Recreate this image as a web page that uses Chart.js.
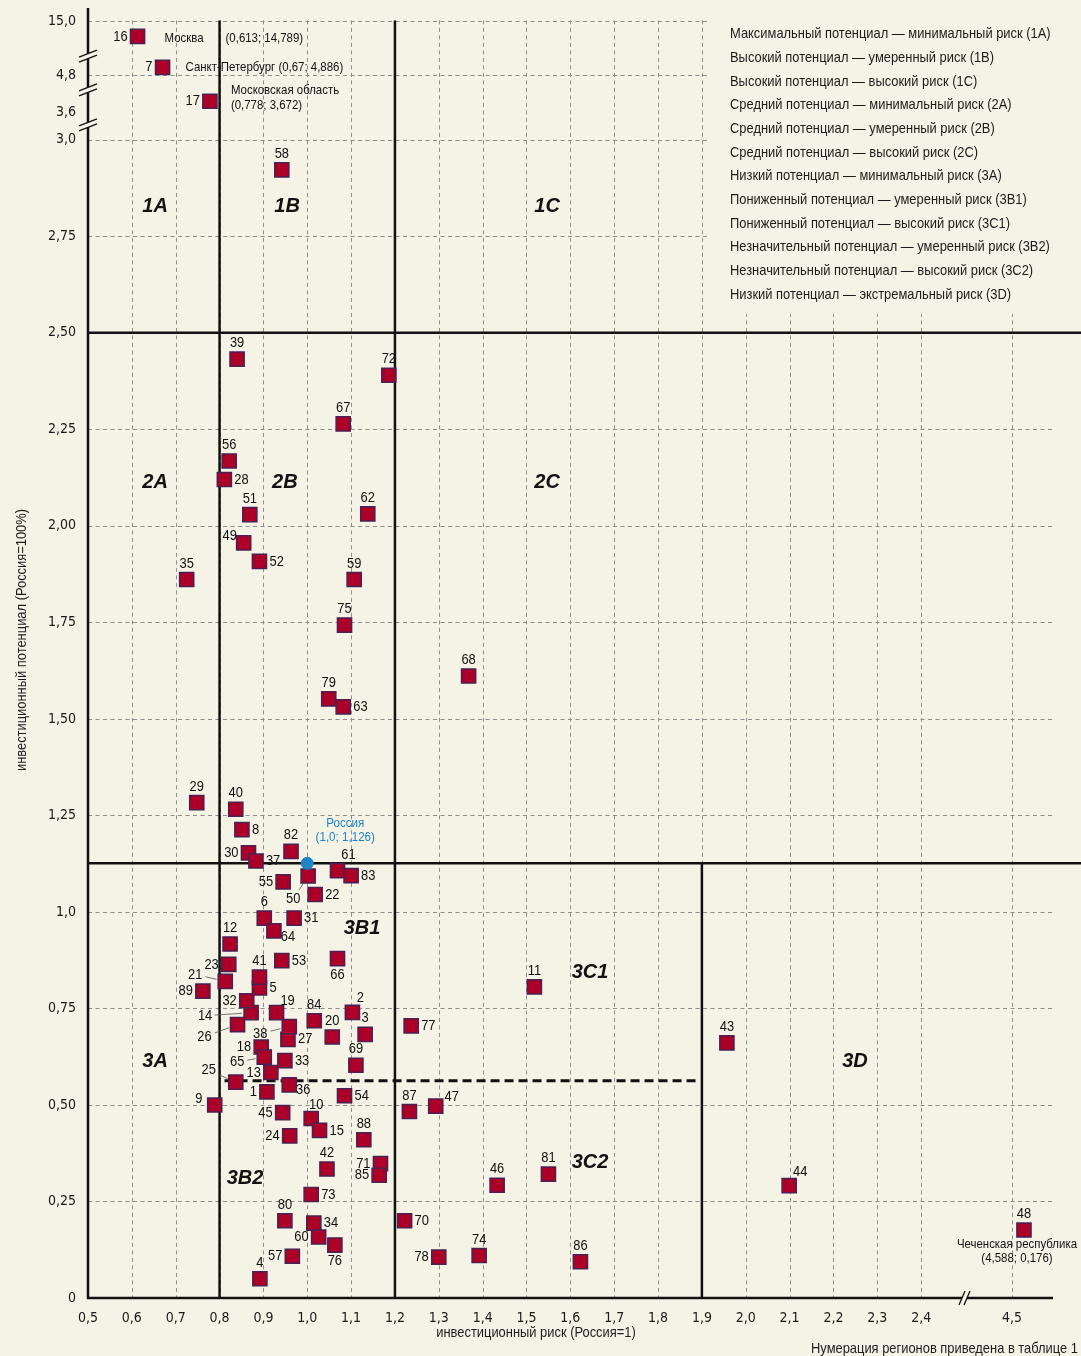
<!DOCTYPE html>
<html><head><meta charset="utf-8">
<script src="https://cdn.jsdelivr.net/npm/chart.js@4.4.1/dist/chart.umd.min.js"></script>
<style>html,body{margin:0;padding:0;background:#f4f3e6}canvas{display:block}</style>
</head><body>
<canvas id="c" width="1081" height="1356" style="width:1081px;height:1356px"></canvas>
<script>
// ---------------- DATA ----------------
const regionIds = [1,2,3,4,5,6,7,8,9,10,11,12,13,14,15,16,17,18,19,20,21,22,23,24,25,26,27,28,29,30,31,32,33,34,35,36,37,38,39,40,41,42,43,44,45,46,47,48,49,50,51,52,53,54,55,56,57,58,59,60,61,62,63,64,65,66,67,68,69,70,71,72,73,74,75,76,77,78,79,80,81,82,83,84,85,86,87,88,89];
const riskX = [0.908,1.103,1.132,0.892,0.891,0.902,0.67,0.851,0.789,1.009,1.518,0.824,0.917,0.872,1.028,0.613,0.778,0.895,0.930,1.057,0.813,1.018,0.821,0.960,0.837,0.841,0.956,0.811,0.748,0.866,0.970,0.862,0.949,1.015,0.725,0.959,0.883,0.959,0.840,0.837,0.891,1.045,1.957,2.099,0.944,1.433,1.293,4.588,0.855,1.002,0.869,0.891,0.942,1.085,0.945,0.822,0.966,0.942,1.107,1.026,1.069,1.138,1.082,0.924,0.902,1.069,1.082,1.368,1.111,1.222,1.167,1.186,1.009,1.392,1.085,1.063,1.237,1.300,1.049,0.949,1.550,0.963,1.100,1.016,1.164,1.623,1.233,1.129,0.762];
const potentialY = [0.534,0.740,0.683,0.050,0.803,0.984,4.886,1.213,0.500,0.465,0.806,0.917,0.584,0.739,0.434,14.789,3.672,0.650,0.739,0.676,0.820,1.045,0.864,0.420,0.559,0.708,0.670,2.120,1.283,1.153,0.984,0.770,0.615,0.194,1.861,0.552,1.132,0.703,2.432,1.266,0.831,0.334,0.661,0.291,0.480,0.292,0.497,0.176,1.956,1.093,2.029,1.908,0.874,0.524,1.078,2.168,0.108,2.922,1.861,0.158,1.107,2.031,1.531,0.951,0.624,0.879,2.264,1.611,0.603,0.200,0.348,2.390,0.268,0.110,1.743,0.137,0.705,0.106,1.552,0.200,0.321,1.157,1.094,0.718,0.318,0.094,0.483,0.410,0.795];
const russiaRisk = 1.0;
const russiaPotential = 1.126;
const namedRegions = {16:'Москва', 7:'Санкт-Петербург', 17:'Московская область', 48:'Чеченская республика'};

// zone boundaries
const riskBounds = [0.8, 1.2, 1.9];
const potentialBounds = [2.5, 1.126];
const lowSplit = 0.563;

// tick labels
const xTickValues = [0.5,0.6,0.7,0.8,0.9,1.0,1.1,1.2,1.3,1.4,1.5,1.6,1.7,1.8,1.9,2.0,2.1,2.2,2.3,2.4,4.5];
const xTickLabels = ['0,5','0,6','0,7','0,8','0,9','1,0','1,1','1,2','1,3','1,4','1,5','1,6','1,7','1,8','1,9','2,0','2,1','2,2','2,3','2,4','4,5'];
const yTickValues = [0,0.25,0.5,0.75,1.0,1.25,1.5,1.75,2.0,2.25,2.5,2.75,3.0,3.6,4.8,15.0];
const yTickLabels = ['0','0,25','0,50','0,75','1,0','1,25','1,50','1,75','2,00','2,25','2,50','2,75','3,0','3,6','4,8','15,0'];

// zone names
const zoneNames = ['1A','1B','1C','2A','2B','2C','3A','3B1','3C1','3B2','3C2','3D'];
const zoneRisk = [0.653,0.954,1.547,0.653,0.949,1.547,0.653,1.125,1.645,0.858,1.645,2.249];
const zonePotential = [2.826,2.826,2.826,2.112,2.112,2.112,0.613,0.957,0.843,0.310,0.352,0.613];

const legendItems = [
'Максимальный потенциал — минимальный риск (1А)',
'Высокий потенциал — умеренный риск (1В)',
'Высокий потенциал — высокий риск (1С)',
'Средний потенциал — минимальный риск (2А)',
'Средний потенциал — умеренный риск (2В)',
'Средний потенциал — высокий риск (2С)',
'Низкий потенциал — минимальный риск (3А)',
'Пониженный потенциал — умеренный риск (3В1)',
'Пониженный потенциал — высокий риск (3С1)',
'Незначительный потенциал — умеренный риск (3В2)',
'Незначительный потенциал — высокий риск (3С2)',
'Низкий потенциал — экстремальный риск (3D)'];

const xTitle = 'инвестиционный риск (Россия=1)';
const yTitle = 'инвестиционный потенциал (Россия=100%)';
const footnote = 'Нумерация регионов приведена в таблице 1';

// ---------------- LAYOUT / STYLE ----------------
const BG = '#f4f3e6';
const NARROW = '"DejaVu Sans Condensed","Liberation Sans Narrow",sans-serif';
const WIDE = '"Liberation Sans",Arial,sans-serif';
const SQUEEZE = 0.86;

// label placement: 'a' above, 'b' below, 'l' left, 'r' right, or [dx,dy,leader]
const labelPlacement = {1:'l',2:[8,-14],3:'a',4:'a',5:'r',6:'a',7:'l',8:'r',9:[-16,-6],10:[5,-14],11:'a',12:'a',13:'l',14:[-46,3,1],15:'r',16:'l',17:'l',18:'l',19:[11,-12],20:'a',21:[-30,-7,1],22:'r',23:'l',24:'l',25:[-27,-12,1],26:[-33,12,1],27:'r',28:'r',29:'a',30:'l',31:'r',32:'l',33:'r',34:'r',35:'a',36:[14,5],37:'r',38:[-29,7,1],39:'a',40:'a',41:'a',42:'a',43:'a',44:[11,-14],45:'l',46:'a',47:[16,-9],48:'a',49:[-14,-7],50:[-15,23,1],51:'a',52:'r',53:'r',54:'r',55:'l',56:'a',57:'l',58:'a',59:'a',60:'l',61:[11,-16],62:'a',63:'r',64:[14,6],65:[-27,5,1],66:'b',67:'a',68:'a',69:'a',70:'r',71:'l',72:'a',73:'r',74:'a',75:'a',76:'b',77:'r',78:'l',79:'a',80:'a',81:'a',82:'a',83:'r',84:'a',85:'l',86:'a',87:'a',88:'a',89:'l'};

// broken axes: value -> display coordinate
const xAnchors = [[2.45,2.45],[4.35,2.5607],[4.9,2.7312]];
const yAnchors = [[3.0,3.0],[3.45,3.0123],[3.75,3.1305],[4.65,3.131],[4.95,3.203],[14.6,3.233],[15.1,3.325]];
const xBreaks = [2.5];
const yBreaks = [3.04, 3.1307, 3.218];
function piecewise(anchors, v){
  if (v <= anchors[0][0]) return v;
  for (let i=1;i<anchors.length;i++){
    const [v0,d0]=anchors[i-1],[v1,d1]=anchors[i];
    if (v<=v1) return d0+(v-v0)*(d1-d0)/(v1-v0);
  }
  const n=anchors.length,[v0,d0]=anchors[n-2],[v1,d1]=anchors[n-1];
  return d0+(v-v0)*(d1-d0)/(v1-v0);
}
const toX = v => piecewise(xAnchors, v);
const toY = v => piecewise(yAnchors, v);
const fmt = v => (Number.isInteger(v) ? v.toFixed(1) : String(v)).replace('.', ',');

const regionPoints = regionIds.map((id,i)=>({x: toX(riskX[i]), y: toY(potentialY[i])}));

function line(ctx,x1,y1,x2,y2){ctx.beginPath();ctx.moveTo(x1,y1);ctx.lineTo(x2,y2);ctx.stroke();}
// narrow text: Liberation Sans squeezed horizontally (Arial Narrow look)
function ntext(ctx,t,x,y,align,size,color,rot){
  ctx.save();
  ctx.font=size+'px '+WIDE; ctx.fillStyle=color||'#111'; ctx.textAlign=align; ctx.textBaseline='middle';
  ctx.translate(x,y); if (rot) ctx.rotate(rot); ctx.scale(SQUEEZE,1);
  ctx.fillText(t,0,0);
  ctx.restore();
}
function nwidth(ctx,t,size){ctx.save();ctx.font=size+'px '+WIDE;const w=ctx.measureText(t).width*SQUEEZE;ctx.restore();return w;}

const schemaPlugin = {
  id:'schema',
  beforeDraw(chart){
    const c=chart.ctx; c.save(); c.fillStyle=BG; c.fillRect(0,0,chart.width,chart.height); c.restore();
  },
  beforeDatasetsDraw(chart){
    const {ctx, chartArea:a, scales:{x,y}} = chart;
    const X = v => x.getPixelForValue(toX(v)), Y = v => y.getPixelForValue(toY(v));
    ctx.save();
    // dashed grid
    ctx.strokeStyle='#8e8e8e'; ctx.lineWidth=1; ctx.setLineDash([4,3.5]);
    xTickValues.forEach(v=>{ if (v===0.5) return; const px=Math.round(X(v))+0.5; line(ctx,px,a.top,px,a.bottom); });
    yTickValues.forEach(v=>{ if (v===0 || v===3.6) return; const py=Math.round(Y(v))+0.5; line(ctx,a.left,py,a.right,py); });
    ctx.setLineDash([]);
    // legend area cover
    ctx.fillStyle=BG; ctx.fillRect(710,0,chart.width-710,314);
    // zone boundaries
    ctx.strokeStyle='#111'; ctx.lineWidth=2.5;
    line(ctx,X(riskBounds[0]),a.top,X(riskBounds[0]),a.bottom);
    line(ctx,X(riskBounds[1]),a.top,X(riskBounds[1]),a.bottom);
    line(ctx,X(riskBounds[2]),Y(potentialBounds[1]),X(riskBounds[2]),a.bottom);
    potentialBounds.forEach(p=>line(ctx,a.left,Y(p),chart.width,Y(p)));
    ctx.lineWidth=3; ctx.setLineDash([9,5]);
    line(ctx,X(riskBounds[0])+5,Y(lowSplit),X(riskBounds[2])-4,Y(lowSplit));
    ctx.setLineDash([]);
    // axes
    ctx.lineWidth=2.5;
    line(ctx,a.left,8,a.left,a.bottom+1);
    line(ctx,a.left-1,a.bottom,a.right,a.bottom);
    // breaks
    ctx.lineWidth=1.3;
    yBreaks.forEach(d=>{
      const py=y.getPixelForValue(d);
      ctx.fillStyle=BG;
      ctx.beginPath(); ctx.moveTo(a.left-9,py+1.5); ctx.lineTo(a.left+9,py-5.5); ctx.lineTo(a.left+9,py-0.5); ctx.lineTo(a.left-9,py+6.5); ctx.closePath(); ctx.fill();
      line(ctx,a.left-9,py+1.5,a.left+9,py-5.5);
      line(ctx,a.left-9,py+6.5,a.left+9,py-0.5);
    });
    xBreaks.forEach(d=>{
      const px=x.getPixelForValue(d);
      ctx.fillStyle=BG;
      ctx.beginPath(); ctx.moveTo(px-6,a.bottom+7); ctx.lineTo(px,a.bottom-7); ctx.lineTo(px+5,a.bottom-7); ctx.lineTo(px-1,a.bottom+7); ctx.closePath(); ctx.fill();
      line(ctx,px-6,a.bottom+7,px,a.bottom-7);
      line(ctx,px-1,a.bottom+7,px+5,a.bottom-7);
    });
    // zone names
    ctx.fillStyle='#111'; ctx.font='italic bold 20px '+WIDE; ctx.textAlign='center'; ctx.textBaseline='middle';
    zoneNames.forEach((n,i)=>ctx.fillText(n,X(zoneRisk[i]),Y(zonePotential[i])));
    // legend
    legendItems.forEach((t,i)=>ntext(ctx,t,730,34+i*23.7,'left',15,'#1c1c1c'));
    // axis titles
    ntext(ctx,xTitle,536,1333,'center',15,'#1c1c1c');
    ntext(ctx,yTitle,22,640,'center',15,'#1c1c1c',-Math.PI/2);
    ntext(ctx,footnote,1078,1349,'right',15,'#1c1c1c');
    ctx.restore();
  },
  afterDatasetsDraw(chart){
    const {ctx} = chart;
    const meta = chart.getDatasetMeta(0);
    const FS = 15;
    ctx.save();
    regionIds.forEach((id,i)=>{
      const el=meta.data[i]; const px=el.x, py=el.y; const t=String(id);
      const p=labelPlacement[id]||'a';
      if (p==='a') ntext(ctx,t,px,py-16,'center',FS);
      else if (p==='b') ntext(ctx,t,px,py+16,'center',FS);
      else if (p==='r') ntext(ctx,t,px+10,py,'left',FS);
      else if (p==='l') ntext(ctx,t,px-10,py,'right',FS);
      else {
        const [dx,dy,lead]=p; ntext(ctx,t,px+dx,py+dy,'center',FS);
        if (lead){
          const len=Math.hypot(dx,dy), ux=-dx/len, uy=-dy/len;
          const hw=nwidth(ctx,t,FS)/2;
          const off=hw*Math.abs(ux)+6*Math.abs(uy)+2;
          ctx.save(); ctx.strokeStyle='#555'; ctx.lineWidth=0.8;
          line(ctx,px+dx+ux*off,py+dy+uy*off,px-ux*9,py-uy*9); ctx.restore();
        }
      }
    });
    // named regions
    const AS = 13.3;
    regionIds.forEach((id,i)=>{
      if (!namedRegions[id]) return;
      const el=meta.data[i]; const px=el.x, py=el.y;
      const coord='('+fmt(riskX[i])+'; '+fmt(potentialY[i])+')';
      if (id===16){ntext(ctx,namedRegions[id],px+27,py+2,'left',AS);ntext(ctx,coord,px+88,py+2,'left',AS);}
      else if (id===7){ntext(ctx,namedRegions[id]+' '+coord,px+23,py,'left',AS);}
      else if (id===17){ntext(ctx,namedRegions[id],px+21,py-11,'left',AS);ntext(ctx,coord,px+21,py+4,'left',AS);}
      else if (id===48){ntext(ctx,namedRegions[id],px-7,py+14,'center',AS);ntext(ctx,coord,px-7,py+28,'center',AS);}
    });
    // Russia
    const rm = chart.getDatasetMeta(1).data[0];
    ntext(ctx,'Россия',rm.x+38,rm.y-40,'center',13.5,'#1f84c6');
    ntext(ctx,'('+fmt(russiaRisk)+'; '+fmt(russiaPotential)+')',rm.x+38,rm.y-26,'center',13.5,'#1f84c6');
    ctx.restore();
  }
};

new Chart(document.getElementById('c'), {
  type:'scatter',
  data:{datasets:[
    {data:regionPoints, order:1, pointStyle:'rect', pointRadius:10, pointHoverRadius:10, backgroundColor:'#ac0029', borderColor:'#4a2150', borderWidth:1.5},
    {data:[{x:toX(russiaRisk), y:toY(russiaPotential)}], order:0, pointStyle:'circle', pointRadius:6, backgroundColor:'#1f84c6', borderColor:'#1f84c6', borderWidth:1}
  ]},
  options:{
    responsive:false, animation:false, devicePixelRatio:1, events:[],
    layout:{padding:{top:18,right:28,left:0,bottom:0}},
    plugins:{legend:{display:false}, tooltip:{enabled:false}},
    scales:{
      x:{type:'linear', min:0.5, max:2.7007,
        afterFit:s=>{s.height=58;},
        afterBuildTicks:s=>{s.ticks=xTickValues.map(v=>({value:toX(v)}));},
        grid:{display:false, drawTicks:false}, border:{display:false},
        ticks:{callback:(v,i)=>xTickLabels[i], autoSkip:false, maxRotation:0, minRotation:0, padding:12, color:'#1a1a1a', font:{family:NARROW,size:14}}},
      y:{type:'linear', min:0, max:3.3092,
        afterFit:s=>{s.width=88;},
        afterBuildTicks:s=>{s.ticks=yTickValues.map(v=>({value:toY(v)}));},
        grid:{display:false, drawTicks:false}, border:{display:false},
        ticks:{callback:(v,i)=>yTickLabels[i], autoSkip:false, padding:12, color:'#1a1a1a', font:{family:NARROW,size:14}}}
    }
  },
  plugins:[schemaPlugin]
});
</script></body></html>
